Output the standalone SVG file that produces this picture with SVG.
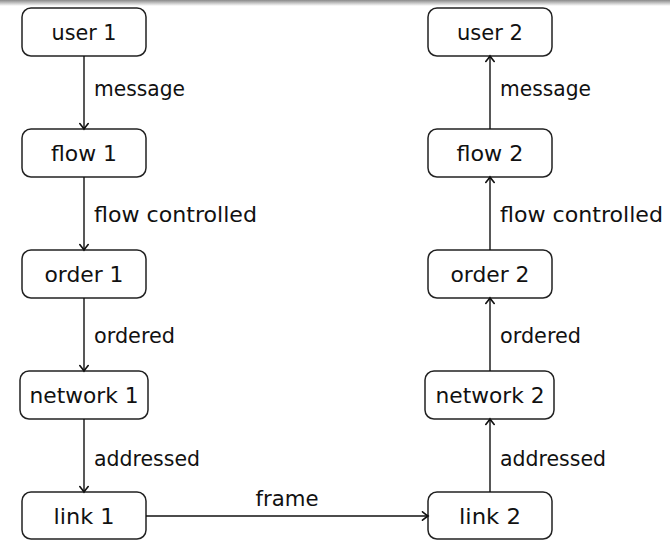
<svg xmlns="http://www.w3.org/2000/svg" width="670" height="540" viewBox="0 0 670 540">
  <defs>
    <linearGradient id="topShade" x1="0" y1="0" x2="0" y2="1">
      <stop offset="0" stop-color="#8a8a8a"/>
      <stop offset="1" stop-color="#ffffff"/>
    </linearGradient>
    <marker id="tip" viewBox="-7 -5 9 10" markerWidth="9" markerHeight="10" refX="0" refY="0" orient="auto" markerUnits="userSpaceOnUse">
      <path d="M -5.5 -4.2 Q -1.5 -1 0 0 Q -1.5 1 -5.5 4.2" fill="none" stroke="#111" stroke-width="1.6" stroke-linecap="round"/>
    </marker>
  </defs>
  <style>
    .box { fill: #ffffff; stroke: #222; stroke-width: 1.5; }
    .edge { fill: none; stroke: #111; stroke-width: 1.4; marker-end: url(#tip); }
    text { font-family: "DejaVu Sans", "Liberation Sans", sans-serif; font-size: 22px; fill: #111; }
    .node text { text-anchor: middle; }
    .mid { text-anchor: middle; }
  </style>

  <rect x="0" y="0" width="670" height="6" fill="url(#topShade)"/>

  <!-- sender stack -->
  <g id="user1" class="node">
    <rect class="box" x="22" y="8" width="124" height="48" rx="9"/>
    <text x="84" y="40" textLength="65" lengthAdjust="spacingAndGlyphs">user 1</text>
  </g>
  <g id="flow1" class="node">
    <rect class="box" x="22" y="129" width="124" height="48" rx="9"/>
    <text x="84" y="161" textLength="66" lengthAdjust="spacingAndGlyphs">flow 1</text>
  </g>
  <g id="order1" class="node">
    <rect class="box" x="22" y="250" width="124" height="48" rx="9"/>
    <text x="84" y="282" textLength="79" lengthAdjust="spacingAndGlyphs">order 1</text>
  </g>
  <g id="network1" class="node">
    <rect class="box" x="20" y="371" width="128" height="48" rx="9"/>
    <text x="84" y="403" textLength="109" lengthAdjust="spacingAndGlyphs">network 1</text>
  </g>
  <g id="link1" class="node">
    <rect class="box" x="22" y="492" width="124" height="47" rx="9"/>
    <text x="84" y="524" textLength="61" lengthAdjust="spacingAndGlyphs">link 1</text>
  </g>

  <!-- receiver stack -->
  <g id="user2" class="node">
    <rect class="box" x="428" y="8" width="124" height="48" rx="9"/>
    <text x="490" y="40" textLength="66" lengthAdjust="spacingAndGlyphs">user 2</text>
  </g>
  <g id="flow2" class="node">
    <rect class="box" x="428" y="129" width="124" height="48" rx="9"/>
    <text x="490" y="161" textLength="67" lengthAdjust="spacingAndGlyphs">flow 2</text>
  </g>
  <g id="order2" class="node">
    <rect class="box" x="428" y="250" width="124" height="48" rx="9"/>
    <text x="490" y="282" textLength="79" lengthAdjust="spacingAndGlyphs">order 2</text>
  </g>
  <g id="network2" class="node">
    <rect class="box" x="425" y="371" width="129" height="48" rx="9"/>
    <text x="490" y="403" textLength="109" lengthAdjust="spacingAndGlyphs">network 2</text>
  </g>
  <g id="link2" class="node">
    <rect class="box" x="428" y="492" width="124" height="47" rx="9"/>
    <text x="490" y="524" textLength="62" lengthAdjust="spacingAndGlyphs">link 2</text>
  </g>

  <!-- connectors -->
  <g id="connectors">
    <path class="edge" d="M84 56 V129"/>
    <path class="edge" d="M84 177 V250"/>
    <path class="edge" d="M84 298 V371"/>
    <path class="edge" d="M84 419 V492"/>
    <path class="edge" d="M146 516 H428"/>
    <path class="edge" d="M490 492 V419"/>
    <path class="edge" d="M490 371 V298"/>
    <path class="edge" d="M490 250 V177"/>
    <path class="edge" d="M490 129 V56"/>

    <text x="94" y="96" textLength="91" lengthAdjust="spacingAndGlyphs">message</text>
    <text x="94" y="222" textLength="163" lengthAdjust="spacingAndGlyphs">flow controlled</text>
    <text x="94" y="343" textLength="81" lengthAdjust="spacingAndGlyphs">ordered</text>
    <text x="94" y="466" textLength="106" lengthAdjust="spacingAndGlyphs">addressed</text>
    <text class="mid" x="287" y="506" textLength="63" lengthAdjust="spacingAndGlyphs">frame</text>
    <text x="500" y="96" textLength="91" lengthAdjust="spacingAndGlyphs">message</text>
    <text x="500" y="222" textLength="163" lengthAdjust="spacingAndGlyphs">flow controlled</text>
    <text x="500" y="343" textLength="81" lengthAdjust="spacingAndGlyphs">ordered</text>
    <text x="500" y="466" textLength="106" lengthAdjust="spacingAndGlyphs">addressed</text>
  </g>
</svg>
